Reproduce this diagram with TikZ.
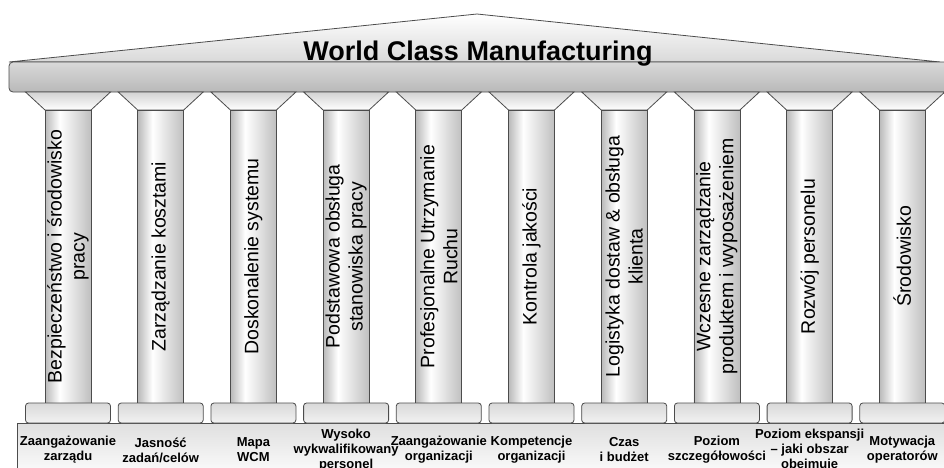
\documentclass[tikz,border=0pt]{standalone}
\usepackage{fontspec}
\setmainfont{Liberation Sans}
\usepackage{tikz}

% light band a third from the left of each shaft
\pgfdeclarehorizontalshading{shaftshade}{100bp}{color(0bp)=(gray!55); color(25bp)=(gray!55);
  color(41bp)=(white); color(75bp)=(gray!50); color(100bp)=(gray!50)}

\tikzset{
  edge/.style={draw=black!70, line width=0.8pt},
  pillartext/.style={rotate=90, align=center, inner sep=0pt,
    font=\fontsize{19.5}{23}\selectfont},
  pillarlabel/.style={align=center, inner sep=0pt,
    font=\bfseries\fontsize{13}{15}\selectfont},
}

\begin{document}
\begin{tikzpicture}[x=1pt, y=-1pt]
    \useasboundingbox (0,0) rectangle (944,467);
    \clip (0,0) rectangle (944,467);

    % The roof and the beam
    \shade[edge, top color=white, bottom color=gray!30] (9,62) -- (477,14) -- (940,62) -- cycle;
    \shade[edge, rounded corners=4pt, top color=gray!30, middle color=white, bottom color=gray!55]
        (9,62) rectangle (960,92);
    \node[anchor=base, font=\bfseries\fontsize{27}{30}\selectfont] (title) at (478,60) {World Class Manufacturing};

    % Bottom step under all pillars
    \shade[edge, top color=gray!25, bottom color=white] (17,423) rectangle (960,480);

    % The ten pillars: capital, shaft, base and label
    \foreach \i/\txt/\lbl in {
        1/{Bezpieczeństwo i środowisko\\pracy}/{Zaangażowanie\\zarządu},
        2/{Zarządzanie kosztami}/{Jasność\\zadań/celów},
        3/{Doskonalenie systemu}/{Mapa\\WCM},
        4/{Podstawowa obsługa\\stanowiska pracy}/{Wysoko\\wykwalifikowany\\personel},
        5/{Profesjonalne Utrzymanie\\Ruchu}/{Zaangażowanie\\organizacji},
        6/{Kontrola jakości}/{Kompetencje\\organizacji},
        7/{Logistyka dostaw \& obsługa\\klienta}/{Czas\\i budżet},
        8/{Wczesne zarządzanie\\produktem i wyposażeniem}/{Poziom\\szczegółowości},
        9/{Rozwój personelu}/{Poziom ekspansji\\– jaki obszar\\obejmuje},
        10/{Środowisko}/{Motywacja\\operatorów}} {
        \pgfmathsetmacro{\cx}{68+92.7*(\i-1)}
        \shade[edge, top color=gray!35, bottom color=white]
            (\cx-42.5,92) -- (\cx+42.5,92) -- (\cx+23,110) -- (\cx-23,110) -- cycle;
        \shade[edge, shading=shaftshade] (\cx-23,110) rectangle (\cx+23,403);
        \node[pillartext] (p\i) at (\cx,256.5) {\txt};
        \shade[edge, rounded corners=3pt, top color=gray!30, bottom color=white!90!gray]
            (\cx-42.5,403) rectangle (\cx+42.5,423);
        \node[pillarlabel] (l\i) at (\cx,450) {\lbl};
    }
\end{tikzpicture}
\end{document}
